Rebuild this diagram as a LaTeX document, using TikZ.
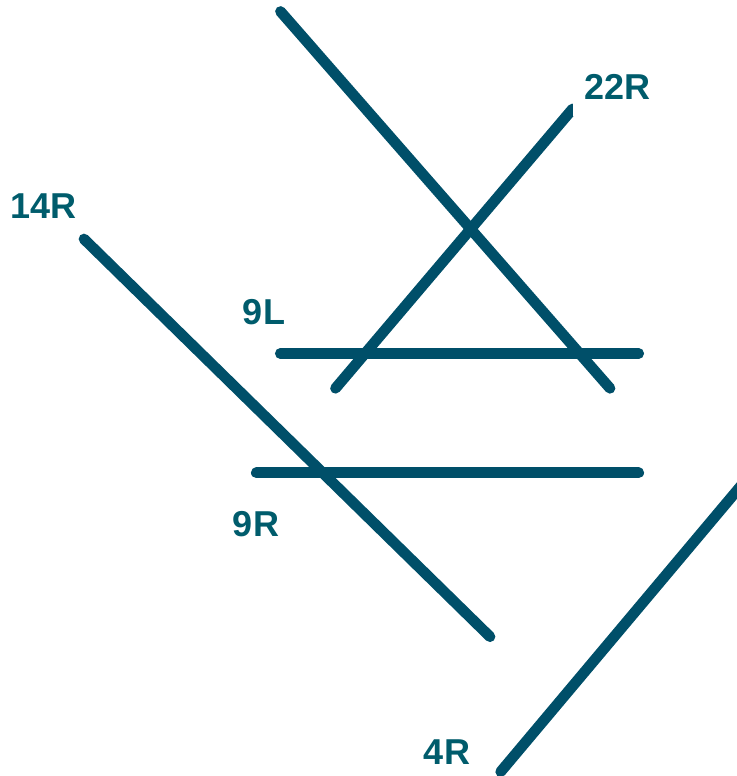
\documentclass[tikz,border=0pt]{standalone}
\usepackage{fontspec}
\setmainfont{Liberation Sans}
\definecolor{rw}{HTML}{004F69}
\definecolor{labc}{HTML}{005C6C}
\tikzset{runway/.style={draw=rw,line width=10.7pt,line cap=round},
lab/.style={text=labc,font=\bfseries\fontsize{36}{40}\selectfont,inner sep=0pt,anchor=center}}
\begin{document}
\begin{tikzpicture}[x=1pt,y=-1pt]
\useasboundingbox (0,0) rectangle (736,776);
\coordinate (a1) at (280.5,11.5); \coordinate (a2) at (610,388.3);
\coordinate (b1) at (572.5,109); \coordinate (b2) at (335.5,388.3);
\coordinate (c1) at (280.3,353.5); \coordinate (c2) at (638.7,353.5);
\coordinate (d1) at (256.3,472.8); \coordinate (d2) at (638.7,472.8);
\coordinate (e1) at (84,239); \coordinate (e2) at (490,636.7);
\coordinate (f1) at (500.7,771.7); \coordinate (f2) at (745,481);
\draw[runway] (a1) -- (a2);
\draw[runway] (b1) -- (b2);
\draw[runway] (c1) -- (c2);
\draw[runway] (d1) -- (d2);
\draw[runway] (e1) -- (e2);
\draw[runway] (f1) -- (f2);
\node[lab,fill=white,inner xsep=11pt,inner ysep=16pt] (t22) at (617.5,87) {22R};
\node[lab] (t14) at (43.5,206) {14R};
\node[lab] (t9l) at (264,312) {9L};
\node[lab] (t9r) at (256,524) {9R};
\node[lab] (t4) at (447,752) {4R};
\end{tikzpicture}
\end{document}
